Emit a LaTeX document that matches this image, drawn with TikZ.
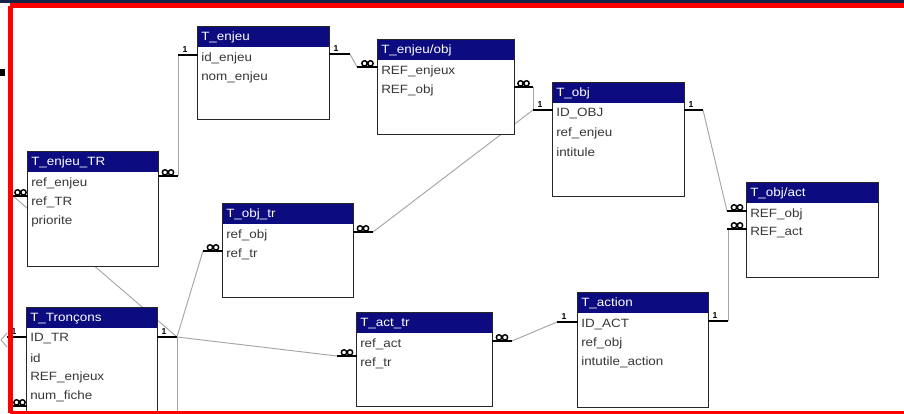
\documentclass[tikz,border=0pt]{standalone}
\usepackage{fontspec}
\setmainfont{Liberation Sans}[FakeStretch=1.12]
\newfontfamily\onefont{Liberation Sans}
\usetikzlibrary{fit}
\definecolor{hdrblue}{RGB}{12,12,128}
\definecolor{topnavy}{RGB}{22,36,70}
\definecolor{fldgray}{RGB}{55,55,55}
\definecolor{linegray}{RGB}{165,165,165}
\definecolor{framered}{RGB}{255,0,0}
\tikzset{
 tblbox/.style={fill=white, inner sep=0pt, draw=none},
 tblline/.style={draw=black!85, line width=1.1pt},
 hdrfill/.style={fill=hdrblue},
 hdrtext/.style={text=white, anchor=west, inner sep=0pt, font=\fontsize{9}{10}\selectfont},
 fldtext/.style={text=fldgray, anchor=west, inner sep=0pt, font=\fontsize{9}{10}\selectfont},
 conn/.style={draw=linegray, line width=0.7pt},
 stubbar/.style={draw=black, line width=2.2pt},
 onelabel/.style={anchor=south, inner sep=0pt, font=\onefont\bfseries\fontsize{6.5}{7}\selectfont},
 infmark/.style={draw=black, line width=1.1pt},
}
\newcommand\dbtable[7]{%
  \node[tblbox, fit={(#2,#3) (#4,#5)}] (#1) {};
  \fill[hdrfill] (#2,#3) rectangle (#4,#3+20);
  \draw[tblline] (#1.north west) rectangle (#1.south east);
  \node[hdrtext] (#1-title) at (#2+3,#3+10.5) {#6};
  \foreach \f [count=\i] in {#7} {\node[fldtext] (#1-f\i) at (#2+3,{#3+31+19*(\i-1)}) {\f};}
}
\newcommand\onestub[4]{%
  \draw[stubbar] (#2,#4) -- (#3,#4);
  \node[onelabel] (#1) at (#2+7,#4-2) {1};
}
\newcommand\manystub[4]{%
  \draw[stubbar] (#2,#4) -- (#3,#4);
  \draw[infmark] ({(#2+#3)/2-3},#4-3.6) circle[radius=2.0pt] ({(#2+#3)/2+3},#4-3.6) circle[radius=2.0pt];
  \coordinate (#1) at ({(#2+#3)/2},#4);
}
\begin{document}
\begin{tikzpicture}[x=0.75pt,y=-0.75pt]
\useasboundingbox (0,0) rectangle (904,414);
\clip (0,0) rectangle (904,414);
\fill[white] (0,0) rectangle (904,414);

% connector end points
\coordinate (c-enjeu-L) at (178,55);
\coordinate (c-enjeu-R) at (350,54);
\coordinate (c-enjeutr-R) at (178,176);
\coordinate (c-enjeutr-L) at (13,196);
\coordinate (c-enjeuobj-L) at (357,67);
\coordinate (c-enjeuobj-R) at (533,87);
\coordinate (c-obj-L) at (533,110);
\coordinate (c-obj-R) at (703,110);
\coordinate (c-objact-L1) at (727,211);
\coordinate (c-objact-L2) at (728,229);
\coordinate (c-action-R) at (728,321);
\coordinate (c-action-L) at (557,322);
\coordinate (c-acttr-R) at (512,341);
\coordinate (c-acttr-L) at (337,356);
\coordinate (c-objtr-L) at (203,251);
\coordinate (c-objtr-R) at (373,232);
\coordinate (c-tron-R) at (177,337);
\coordinate (c-tron-down) at (177,420);
\coordinate (c-offA) at (7,333);
\coordinate (c-offV) at (1,340);
\coordinate (c-offB) at (7,347);

% connectors
\draw[conn] (c-enjeu-L) -- (c-enjeutr-R);
\draw[conn] (c-enjeu-R) -- (c-enjeuobj-L);
\draw[conn] (c-enjeuobj-R) -- (c-obj-L);
\draw[conn] (c-obj-R) -- (c-objact-L1);
\draw[conn] (c-action-R) -- (c-objact-L2);
\draw[conn] (c-action-L) -- (c-acttr-R);
\draw[conn] (c-objtr-R) -- (c-obj-L);
\draw[conn] (c-tron-R) -- (c-objtr-L);
\draw[conn] (c-tron-R) -- (c-acttr-L);
\draw[conn] (c-tron-R) -- (c-tron-down);
\draw[conn] (c-enjeutr-L) -- (c-tron-R);
\draw[conn] (c-offA) -- (c-offV) -- (c-offB);

% tables
\dbtable{enjeu}{198}{27}{329}{119}{T\_enjeu}{id\_enjeu,nom\_enjeu}
\dbtable{enjeuobj}{378}{40}{514}{134}{T\_enjeu/obj}{REF\_enjeux,REF\_obj}
\dbtable{obj}{553}{83}{684}{196}{T\_obj}{ID\_OBJ,ref\_enjeu,intitule}
\dbtable{objact}{747}{183}{878}{277}{T\_obj/act}{REF\_obj,REF\_act}
\dbtable{enjeutr}{28}{152}{158}{266}{T\_enjeu\_TR}{ref\_enjeu,ref\_TR,priorite}
\dbtable{objtr}{223}{204}{353}{297}{T\_obj\_tr}{ref\_obj,ref\_tr}
\dbtable{tron}{27}{308}{157}{430}{T\_Tronçons}{ID\_TR,id,REF\_enjeux,num\_fiche}
\dbtable{acttr}{357}{313}{492}{406}{T\_act\_tr}{ref\_act,ref\_tr}
\dbtable{action}{578}{293}{708}{407}{T\_action}{ID\_ACT,ref\_obj,intutile\_action}

% stubs
\onestub{s-enjeu-L}{178}{198}{55}
\onestub{s-enjeu-R}{329}{350}{54}
\manystub{s-enjeutr-R}{158}{178}{176}
\manystub{s-enjeutr-L}{13}{28}{196}
\manystub{s-enjeuobj-L}{357}{378}{67}
\manystub{s-enjeuobj-R}{514}{533}{87}
\onestub{s-obj-L}{533}{553}{110}
\onestub{s-obj-R}{684}{703}{110}
\manystub{s-objact-L1}{727}{747}{211}
\manystub{s-objact-L2}{727}{747}{229}
\onestub{s-action-R}{708}{728}{321}
\onestub{s-action-L}{557}{578}{322}
\manystub{s-acttr-R}{492}{512}{341}
\manystub{s-acttr-L}{337}{357}{356}
\manystub{s-objtr-L}{203}{223}{251}
\manystub{s-objtr-R}{353}{373}{232}
\onestub{s-tron-R}{157}{177}{337}
\onestub{s-tron-L}{7}{27}{337}
\manystub{s-tron-L2}{12}{27}{406}

% frame
\fill[black] (0,69) rectangle (5,76);
\draw[framered, line width=3.75pt] (10,5.5) -- (910,5.5);
\draw[framered, line width=3.75pt] (10,5.5) -- (10,413);
\draw[framered, line width=3.75pt] (10,413) -- (910,413);
\fill[topnavy] (0,0) rectangle (904,3);
\end{tikzpicture}
\end{document}
